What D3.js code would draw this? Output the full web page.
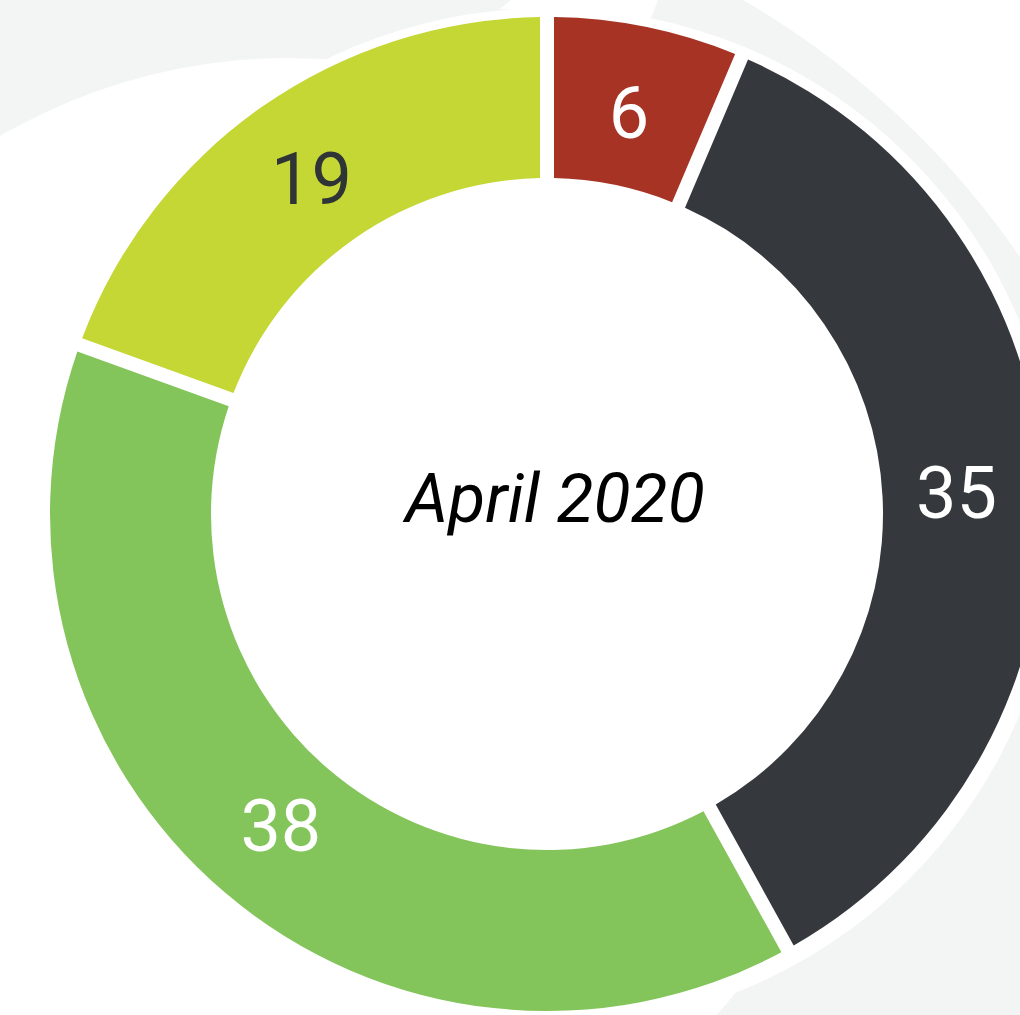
<!DOCTYPE html>
<html>
<head>
<meta charset="utf-8">
<script src="https://cdn.jsdelivr.net/npm/d3@7"></script>
<style>
  html, body { margin: 0; padding: 0; background: #fff; }
  svg { display: block; }
</style>
</head>
<body>
<div id="chart"></div>
<script>
// segment order runs clockwise from 12 o'clock
const segments = ['s1', 's2', 's3', 's4'];
const values = [6, 35, 38, 19];
const colors = ['#a63323', '#35383d', '#84c55b', '#c5d734'];
const labelColors = ['#ffffff', '#ffffff', '#ffffff', '#2f3537'];
const centerLabel = 'April 2020';

const width = 1020;
const height = 1015;
const cx = 547;
const cy = 514;
const outerR = 497;
const innerR = 336;
const gap = 14;

const svg = d3.select('#chart').append('svg')
  .attr('width', width)
  .attr('height', height);

// background decoration: pale grey band with white cut-outs
const bg = svg.append('g');
bg.append('rect').attr('width', width).attr('height', height).attr('fill', '#ffffff');
bg.append('circle').attr('cx', 304).attr('cy', 751).attr('r', 870).attr('fill', '#f3f4f4');
bg.append('circle').attr('cx', 289).attr('cy', 632).attr('r', 574).attr('fill', '#ffffff');
bg.append('path').attr('d', 'M500,9L511,0L658,0L651,18Z').attr('fill', '#ffffff');
bg.append('circle').attr('cx', 549).attr('cy', 518).attr('r', 510).attr('fill', '#ffffff');

const padRadius = Math.sqrt(innerR * innerR + outerR * outerR);

const pie = d3.pie()
  .sort(null)
  .value(d => d)
  .padAngle(gap / padRadius);

const arc = d3.arc()
  .innerRadius(innerR)
  .outerRadius(outerR)
  .padRadius(padRadius);

const labelArc = d3.arc()
  .innerRadius(410)
  .outerRadius(410);

const arcs = pie(values);

const g = svg.append('g')
  .attr('transform', `translate(${cx},${cy})`);

g.selectAll('path.slice')
  .data(arcs)
  .join('path')
  .attr('class', 'slice')
  .attr('d', arc)
  .attr('fill', (d, i) => colors[i]);

g.selectAll('text.value')
  .data(arcs)
  .join('text')
  .attr('class', 'value')
  .attr('transform', d => `translate(${labelArc.centroid(d)})`)
  .attr('text-anchor', 'middle')
  .attr('dy', '0.355em')
  .style('font-family', 'Roboto, sans-serif')
  .style('font-size', '72px')
  .style('font-weight', 400)
  .attr('fill', (d, i) => labelColors[i])
  .text(d => d.data);

g.append('text')
  .attr('x', 8)
  .attr('y', 8)
  .attr('text-anchor', 'middle')
  .style('font-family', 'Roboto, sans-serif')
  .style('font-style', 'italic')
  .style('font-size', '68px')
  .attr('fill', '#000000')
  .text(centerLabel);
</script>
</body>
</html>
